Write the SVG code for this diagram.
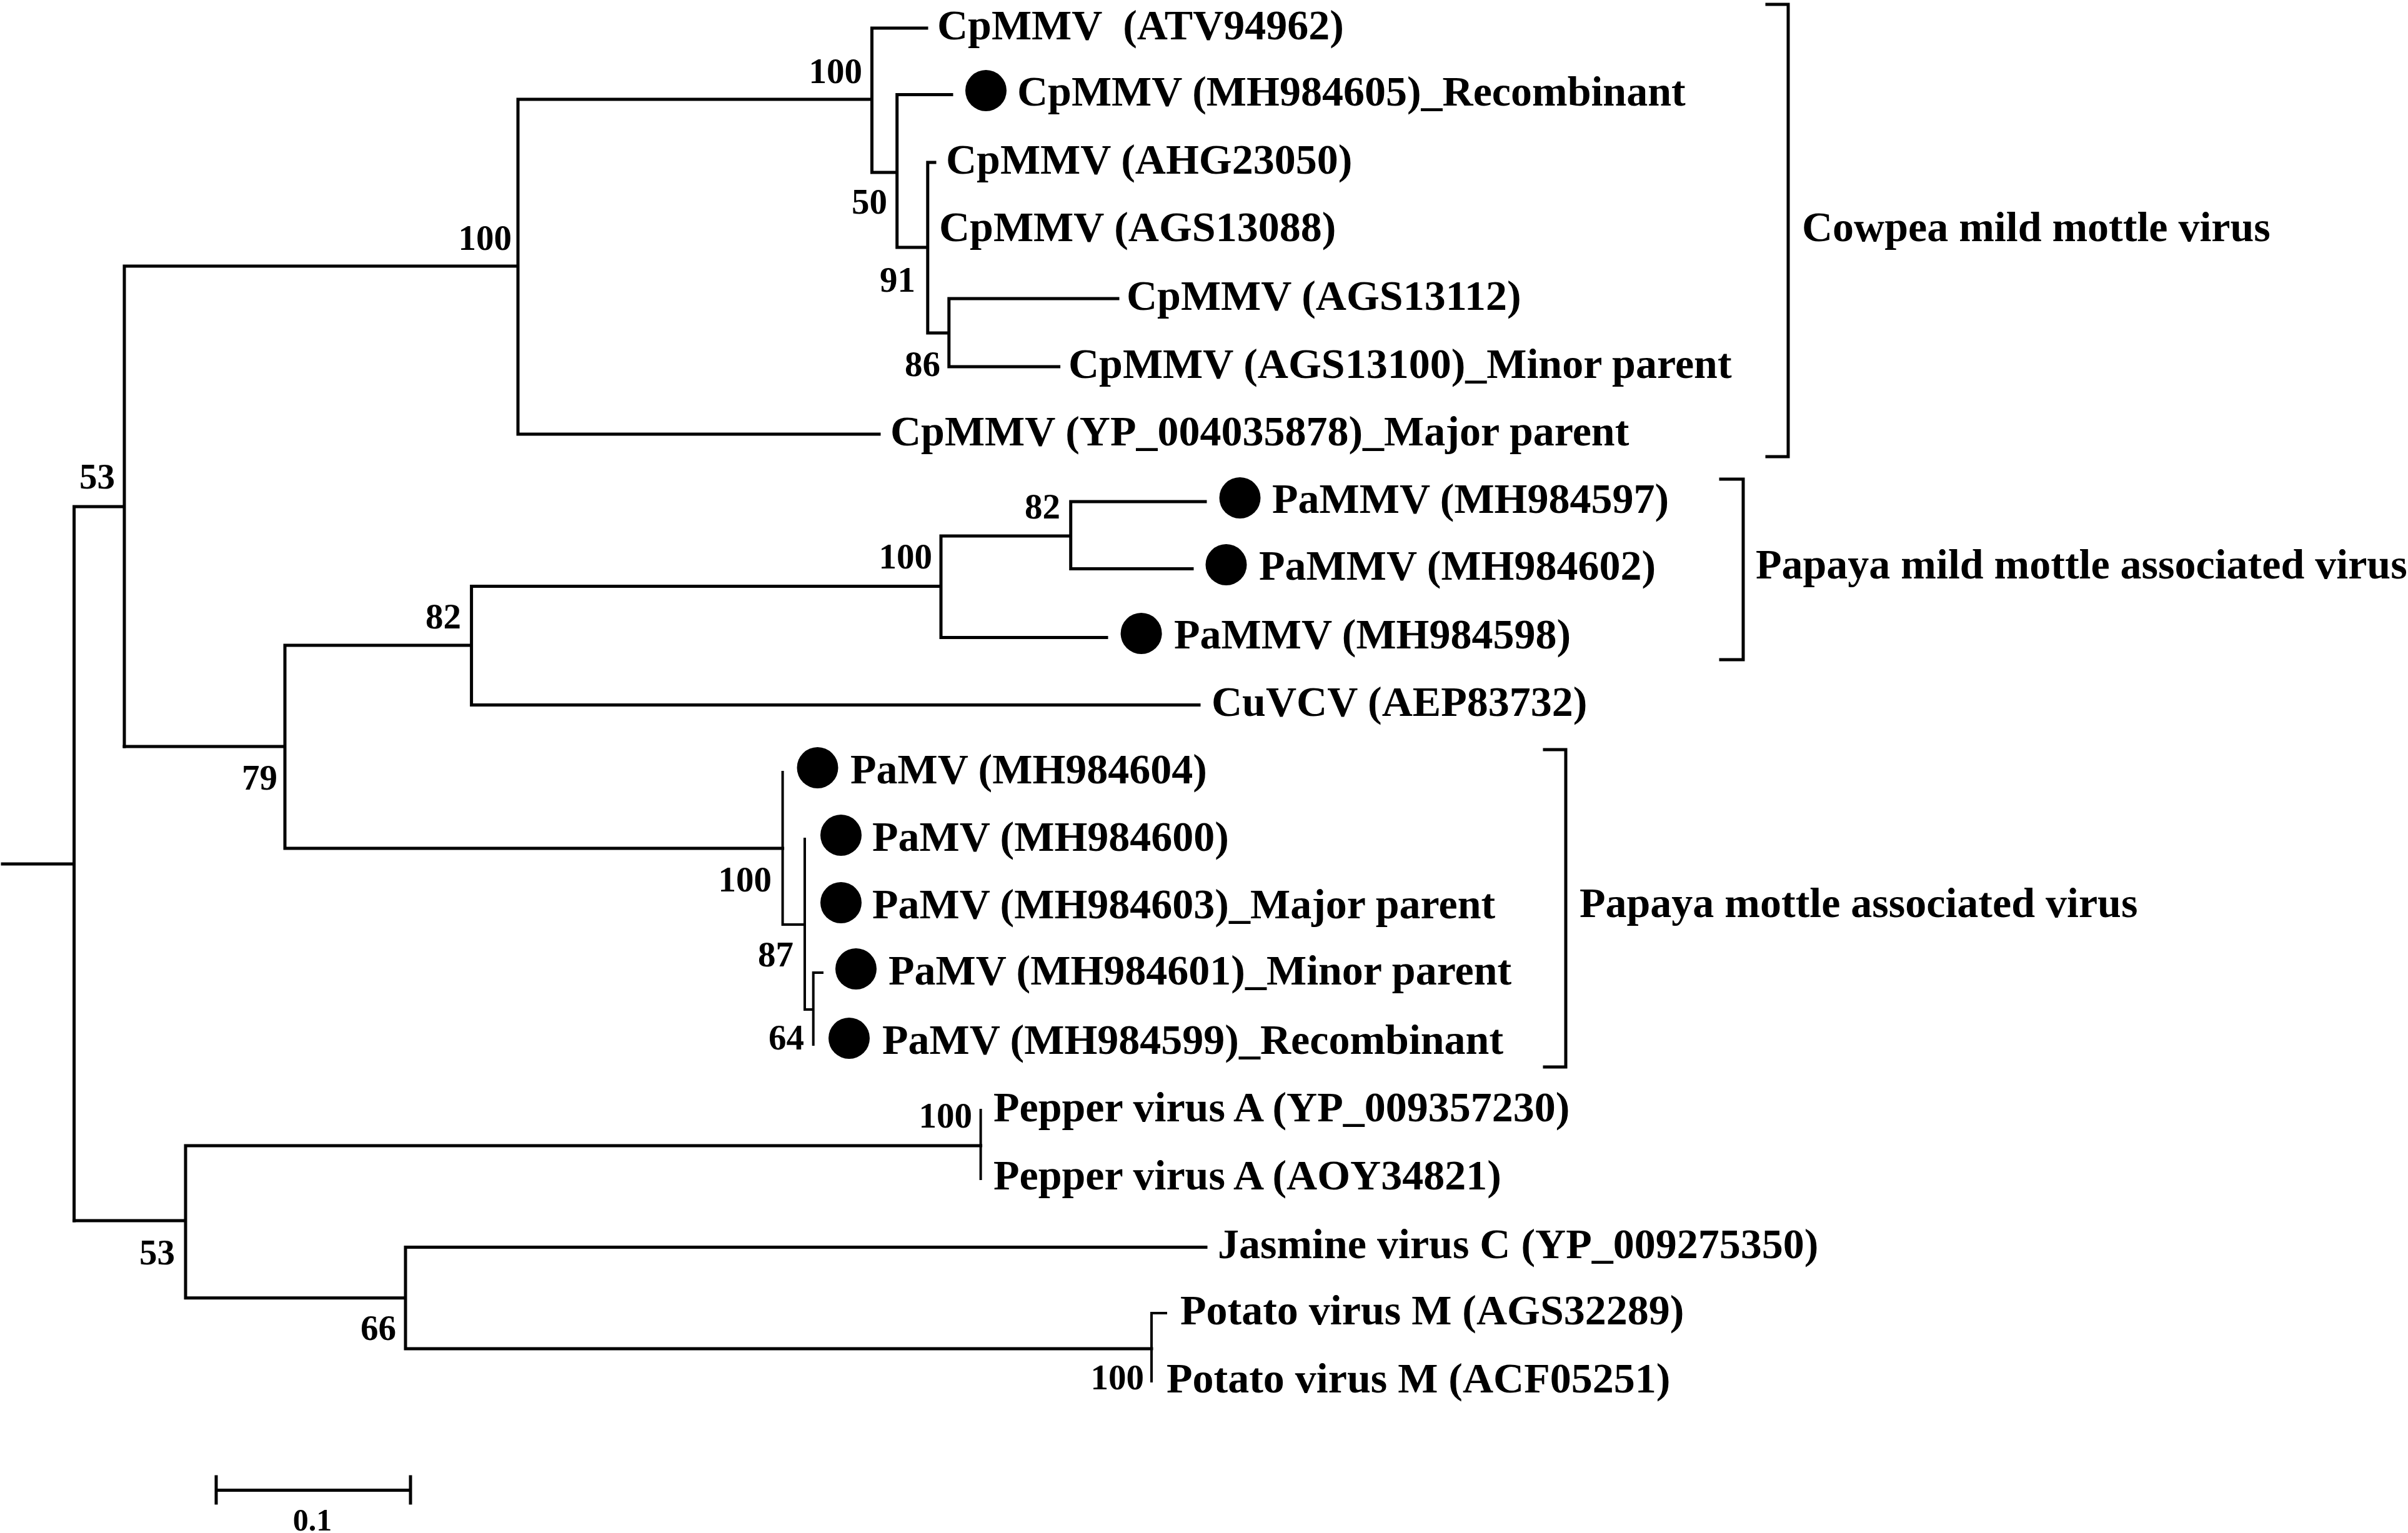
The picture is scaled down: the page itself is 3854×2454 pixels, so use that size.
<svg xmlns="http://www.w3.org/2000/svg" width="3854" height="2454" viewBox="0 0 3854 2454">
<style>
text { font-family: "Liberation Serif", "Times New Roman", serif; font-weight: bold; fill: #000; }
.lbl { font-size: 68px; }
.bs { font-size: 57px; text-anchor: end; }
.sc { font-size: 50px; text-anchor: middle; }
.edge { stroke: #000; stroke-width: 5; fill: none; stroke-linecap: square; }
.thin { stroke-width: 4; }
.dot { fill: #000; }
</style>
<rect width="3854" height="2454" fill="#fff"/>
<g id="connectors">
<path class="edge" d="M4,1383 H118.6 M118.6,811 V1954 M118.6,811 H199 M199,426 V1195 M199,426 H829 M829,159 V695 M829,159 H1395.5 M1395.5,45 V276 M1395.5,45 H1483 M1395.5,276 H1435.7 M1435.7,151.5 V396 M1435.7,151.5 H1523 M1435.7,396 H1484.8 M1484.8,260 V533 M1484.8,260 H1496 M1484.8,533 H1518.8 M1518.8,478 V587 M1518.8,478 H1789 M1518.8,587 H1694.6 M829,695 H1407"/>
<path class="edge" d="M199,1195 H456 M456,1033 V1358 M456,1033 H754.6 M754.6,938.5 V1128.5 M754.6,938.5 H1506 M1506,858 V1020.6 M1506,858 H1713.7 M1713.7,803 V910.5 M1713.7,803 H1929 M1713.7,910.5 H1908 M1506,1020.6 H1771 M754.6,1128.5 H1919 M456,1358 H1252.6"/>
<path class="edge thin" d="M1252.6,1236 V1480 M1252.6,1480 H1288 M1288,1343 V1616 M1288,1616 H1301.7 M1301.7,1557 V1672 M1301.7,1557 H1316"/>
<path class="edge" d="M118.6,1954 H297 M297,1834 V2077.7 M297,1834 H1569.6 M297,2077.7 H649 M649,1996.5 V2159 M649,1996.5 H1930 M649,2159 H1843"/>
<path class="edge thin" d="M1569.6,1777 V1887 M1843,2102 V2211 M1843,2102 H1866"/>
</g>
<g id="internal-nodes">
<g id="n-root53"><text class="bs" x="184" y="782">53</text></g>
<g id="n-cp100"><text class="bs" x="819" y="400">100</text></g>
<g id="n-cp100b"><text class="bs" x="1380" y="133">100</text></g>
<g id="n-cp50"><text class="bs" x="1420" y="342">50</text></g>
<g id="n-cp91"><text class="bs" x="1465" y="467">91</text></g>
<g id="n-cp86"><text class="bs" x="1505" y="602">86</text></g>
<g id="n-79"><text class="bs" x="444" y="1264">79</text></g>
<g id="n-82a"><text class="bs" x="738" y="1006">82</text></g>
<g id="n-pamm100"><text class="bs" x="1492" y="910">100</text></g>
<g id="n-82b"><text class="bs" x="1697" y="830">82</text></g>
<g id="n-pamv100"><text class="bs" x="1235" y="1427">100</text></g>
<g id="n-87"><text class="bs" x="1270" y="1547">87</text></g>
<g id="n-64"><text class="bs" x="1287" y="1680">64</text></g>
<g id="n-53b"><text class="bs" x="280" y="2024">53</text></g>
<g id="n-pep100"><text class="bs" x="1556" y="1805">100</text></g>
<g id="n-66"><text class="bs" x="634" y="2145">66</text></g>
<g id="n-pot100"><text class="bs" x="1831" y="2224">100</text></g>
</g>
<g id="leaves">
<g id="leaf-ATV94962"><text class="lbl" x="1500" y="63" xml:space="preserve">CpMMV  (ATV94962)</text></g>
<g id="leaf-MH984605"><circle class="dot" cx="1578" cy="145" r="33"/><text class="lbl" x="1628" y="169">CpMMV (MH984605)_Recombinant</text></g>
<g id="leaf-AHG23050"><text class="lbl" x="1514" y="278">CpMMV (AHG23050)</text></g>
<g id="leaf-AGS13088"><text class="lbl" x="1503" y="386">CpMMV (AGS13088)</text></g>
<g id="leaf-AGS13112"><text class="lbl" x="1803" y="496">CpMMV (AGS13112)</text></g>
<g id="leaf-AGS13100"><text class="lbl" x="1710" y="605">CpMMV (AGS13100)_Minor parent</text></g>
<g id="leaf-YP004035878"><text class="lbl" x="1425" y="713">CpMMV (YP_004035878)_Major parent</text></g>
<g id="leaf-MH984597"><circle class="dot" cx="1984.5" cy="797" r="33"/><text class="lbl" x="2036" y="821">PaMMV (MH984597)</text></g>
<g id="leaf-MH984602"><circle class="dot" cx="1962.5" cy="904" r="33"/><text class="lbl" x="2015" y="928">PaMMV (MH984602)</text></g>
<g id="leaf-MH984598"><circle class="dot" cx="1826.6" cy="1014" r="33"/><text class="lbl" x="1879" y="1038">PaMMV (MH984598)</text></g>
<g id="leaf-AEP83732"><text class="lbl" x="1939" y="1146">CuVCV (AEP83732)</text></g>
<g id="leaf-MH984604"><circle class="dot" cx="1308.5" cy="1229" r="33"/><text class="lbl" x="1361" y="1254">PaMV (MH984604)</text></g>
<g id="leaf-MH984600"><circle class="dot" cx="1346" cy="1337" r="33"/><text class="lbl" x="1396" y="1362">PaMV (MH984600)</text></g>
<g id="leaf-MH984603"><circle class="dot" cx="1346" cy="1445" r="33"/><text class="lbl" x="1396" y="1470">PaMV (MH984603)_Major parent</text></g>
<g id="leaf-MH984601"><circle class="dot" cx="1370" cy="1551" r="33"/><text class="lbl" x="1422" y="1576">PaMV (MH984601)_Minor parent</text></g>
<g id="leaf-MH984599"><circle class="dot" cx="1359" cy="1662" r="33"/><text class="lbl" x="1412" y="1687">PaMV (MH984599)_Recombinant</text></g>
<g id="leaf-YP009357230"><text class="lbl" x="1590" y="1795">Pepper virus A (YP_009357230)</text></g>
<g id="leaf-AOY34821"><text class="lbl" x="1590" y="1904">Pepper virus A (AOY34821)</text></g>
<g id="leaf-YP009275350"><text class="lbl" x="1949" y="2014">Jasmine virus C (YP_009275350)</text></g>
<g id="leaf-AGS32289"><text class="lbl" x="1889" y="2120">Potato virus M (AGS32289)</text></g>
<g id="leaf-ACF05251"><text class="lbl" x="1867" y="2229">Potato virus M (ACF05251)</text></g>
</g>
<g id="clades">
<g id="clade-cowpea"><path class="edge" stroke-linecap="butt" d="M2828,7 H2862 V731 H2828"/><text class="lbl" x="2884" y="386">Cowpea mild mottle virus</text></g>
<g id="clade-pammv"><path class="edge" stroke-linecap="butt" d="M2754,767 H2790 V1056 H2754"/><text class="lbl" x="2810" y="926">Papaya mild mottle associated virus</text></g>
<g id="clade-pamv"><path class="edge" stroke-linecap="butt" d="M2472,1200 H2506 V1708 H2472"/><text class="lbl" x="2528" y="1468">Papaya mottle associated virus</text></g>
</g>
<g id="scale-bar">
<path class="edge" stroke-linecap="butt" d="M346,2385.5 H657 M346,2364 V2406 M657,2364 V2406"/>
<text class="sc" x="500" y="2450">0.1</text>
</g>
</svg>
